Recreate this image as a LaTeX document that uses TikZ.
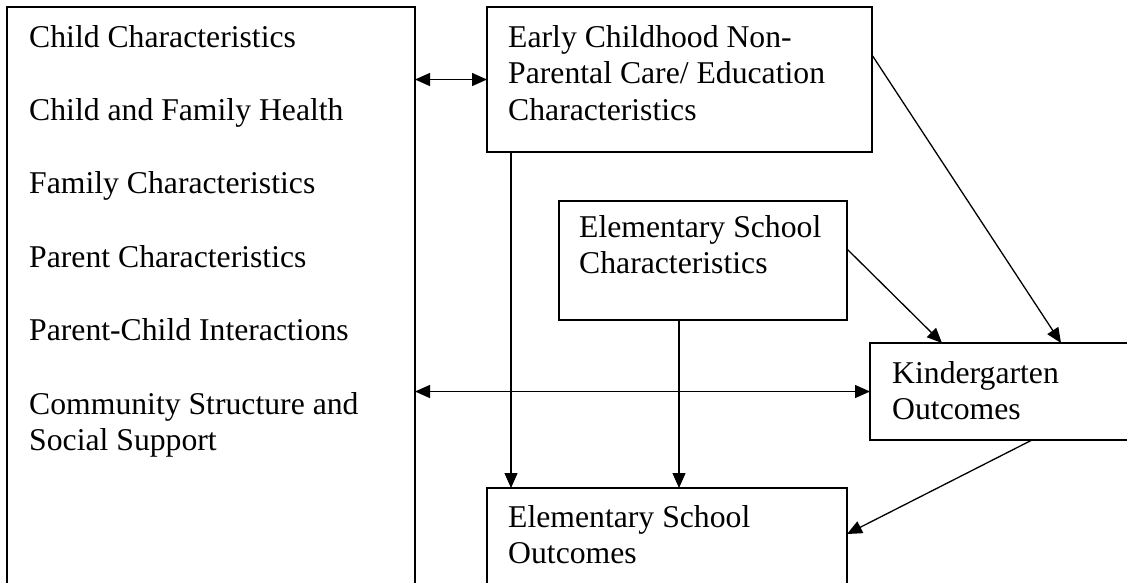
\documentclass[tikz,border=0pt]{standalone}
\usepackage{fontspec}
\setmainfont{Liberation Serif}
\usetikzlibrary{arrows.meta}
\begin{document}
\begin{tikzpicture}[x=1pt,y=-1pt,
  box/.style={draw, line width=1.8pt, anchor=north west, inner sep=0pt, outer sep=0pt},
  lbl/.style={anchor=base west, inner sep=0pt, font=\fontsize{31.7pt}{36.7pt}\selectfont},
  tip/.style={Triangle[length=15pt,width=13pt]},
  conn/.style={line width=1.3pt, -{Triangle[length=15pt,width=13pt]}},
  conntwo/.style={line width=1.3pt, {Triangle[length=15pt,width=13pt]}-{Triangle[length=15pt,width=13pt]}}]
\useasboundingbox (0,0) rectangle (1127,582);
\fill[white] (0,0) rectangle (1127,582);
% boxes
\node[box, minimum width=408pt, minimum height=613pt] (L) at (7,7) {};
\node[box, minimum width=385pt, minimum height=145pt] (T) at (487,7) {};
\node[box, minimum width=288pt, minimum height=119pt] (ESC) at (559,201) {};
\node[box, minimum width=290pt, minimum height=97pt] (K) at (870,343) {};
\node[box, minimum width=360pt, minimum height=132pt] (ESO) at (487,488) {};
% left box texts
\node[lbl] (l1) at (29,47) {Child Characteristics};
\node[lbl] (l2) at (29,120.4) {Child and Family Health};
\node[lbl] (l3) at (29,193.8) {Family Characteristics};
\node[lbl] (l4) at (29,267.2) {Parent Characteristics};
\node[lbl] (l5) at (29,340.6) {Parent-Child Interactions};
\node[lbl] (l6) at (29,414) {Community Structure and};
\node[lbl] (l7) at (29,450.7) {Social Support};
% top box
\node[lbl] (t1) at (508,47) {Early Childhood Non-};
\node[lbl] (t2) at (508,83.7) {Parental Care/ Education};
\node[lbl] (t3) at (508,120.4) {Characteristics};
% ESC
\node[lbl] (e1) at (579,237) {Elementary School};
\node[lbl] (e2) at (579,273.7) {Characteristics};
% K
\node[lbl] (k1) at (892,383) {Kindergarten};
\node[lbl] (k2) at (892,419.7) {Outcomes};
% ESO
\node[lbl] (o1) at (508,527) {Elementary School};
\node[lbl] (o2) at (508,563.7) {Outcomes};
% connector columns
\coordinate (c1) at (511,0);
\coordinate (c2) at (679,0);
% connectors
\draw[conntwo] (L.east |- T.west) -- (T.west);
\draw[conntwo] (L.east |- K.west) -- (K.west);
\draw[conn] (T.south -| c1) -- (ESO.north -| c1);
\draw[conn] (ESC.south -| c2) -- (ESO.north -| c2);
\draw[conn] ([yshift=11.5pt]ESC.east) -- ([xshift=-73pt]K.north);
\draw[conn] ([yshift=24.5pt]T.east) -- ([xshift=46pt]K.north);
\draw[conn] ([xshift=17pt]K.south) -- ([yshift=20pt]ESO.east);
\end{tikzpicture}
\end{document}
